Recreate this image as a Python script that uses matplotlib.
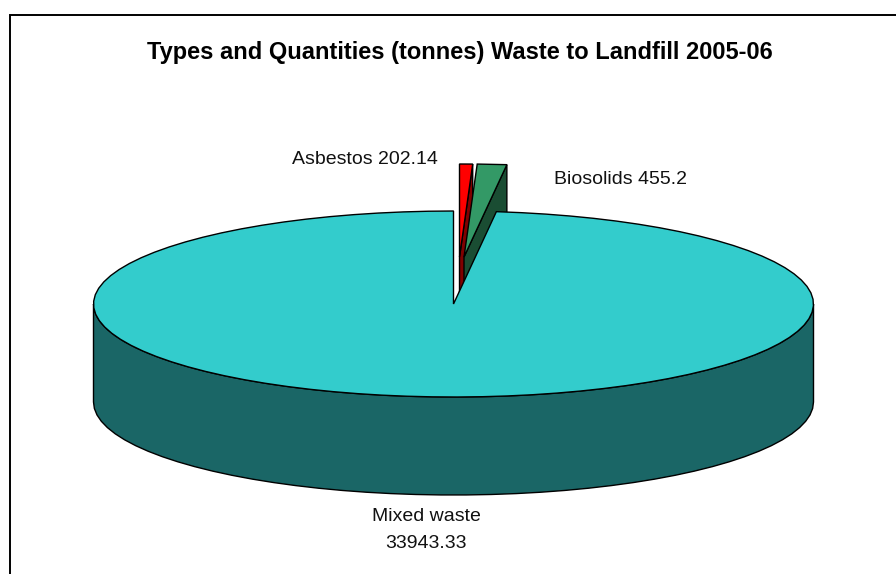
import numpy as np
import matplotlib
matplotlib.use('Agg')
import matplotlib.pyplot as plt
from matplotlib.patches import Polygon

plt.rcParams['font.family'] = ['Liberation Sans', 'DejaVu Sans']

# tonnes, clockwise from 12 o'clock
categories = ['Asbestos', 'Biosolids', 'Mixed waste']
values = [202.14, 455.2, 33943.33]
value_labels = ['202.14', '455.2', '33943.33']
face_colors = ['#FF0000', '#339966', '#33CCCC']
wall_colors = ['#800000', '#1A4D33', '#1A6666']
title = 'Types and Quantities (tonnes) Waste to Landfill 2005-06'

# pie geometry in pixels
cx, cy = 453.5, 304
rx, ry = 360, 93
depth = 98
offsets = [(6, -47), (10.5, -47), (0, 0)]


def rim(a0, a1, dx=0, dy=0):
    # old chart engine draws the rim in coarse steps, so keep it a bit polygonal
    n = max(2, int(round((a1 - a0) / np.radians(4))) + 1)
    t = np.linspace(a0, a1, n)
    return np.column_stack([cx + dx + rx * np.sin(t), cy + dy - ry * np.cos(t)])


fig = plt.figure(figsize=(8.96, 5.74), dpi=100)
ax = fig.add_axes([0, 0, 1, 1])
ax.set_xlim(0, 896)
ax.set_ylim(574, 0)
ax.axis('off')

# chart frame, cut off by the image at the right and bottom
ax.plot([9.5, 9.5, 896], [574, 14.5, 14.5], color='black', lw=1.4, solid_joinstyle='miter')

edges = np.cumsum([0] + values) / sum(values) * 2 * np.pi

# exploded slices first, the big one goes over them
for i in range(3):
    a0, a1 = edges[i], edges[i + 1]
    dx, dy = offsets[i]
    apex = np.array([cx + dx, cy + dy])
    if i < 2:
        # wall along the right cut, seen from the front
        outer = rim(a1, a1, dx, dy)[0]
        wall = [apex, outer, outer + [0, depth], apex + [0, depth]]
    else:
        # outer wall is only visible on the lower half of the ellipse
        front = rim(np.pi / 2, 3 * np.pi / 2)
        wall = np.vstack([front, (front + [0, depth])[::-1]])
    ax.add_patch(Polygon(wall, fc=wall_colors[i], ec='black', lw=1.0, zorder=2 + i))
    face = np.vstack([apex, rim(a0, a1, dx, dy)])
    ax.add_patch(Polygon(face, fc=face_colors[i], ec='black', lw=1.0, zorder=2 + i))

ax.text(460, 53, title, ha='center', va='center', fontsize=17, fontweight='bold')
ax.text(438, 160, f'{categories[0]} {value_labels[0]}', ha='right', va='center', fontsize=14, color='#111111')
ax.text(554, 180, f'{categories[1]} {value_labels[1]}', ha='left', va='center', fontsize=14, color='#111111')
ax.text(426, 530, f'{categories[2]}\n{value_labels[2]}', ha='center', va='center', fontsize=14,
        color='#111111', linespacing=1.7)

fig.savefig('out.png', dpi=100)
